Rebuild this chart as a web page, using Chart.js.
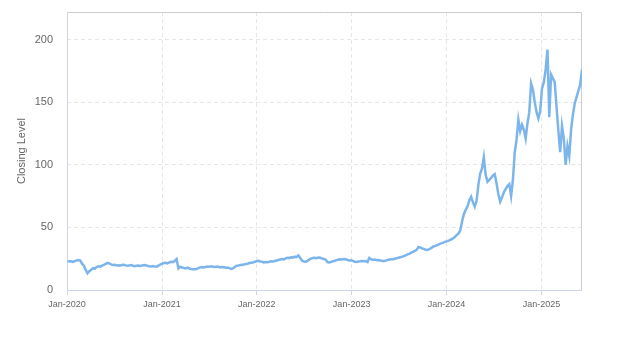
<!DOCTYPE html>
<html>
<head>
<meta charset="utf-8">
<title>Closing Level</title>
<script src="https://cdn.jsdelivr.net/npm/chart.js@4.4.1/dist/chart.umd.min.js"></script>
<style>
  html, body { margin: 0; padding: 0; background: #fff; }
  #wrap { width: 623px; height: 350px; }
</style>
</head>
<body>
<div id="wrap"><canvas id="closingChart" width="623" height="350"></canvas></div>
<script>
// weekly closes, first one on startDate, then every 7 days
const startDate = '2020-01-03';

const close2020 = [23.2, 22.8, 23.0, 22.5, 23.1, 23.6, 24.0, 23.5, 21.0, 19.5,
    16.0, 13.3, 15.0, 16.2, 17.5, 17.0, 18.3, 19.0, 18.6, 19.4,
    20.0, 20.8, 21.6, 21.2, 20.4, 19.9, 20.1, 19.6, 19.8, 19.5,
    19.9, 20.2, 19.7, 19.3, 19.6, 19.9, 19.4, 19.0, 19.3, 19.6,
    19.2, 19.5, 20.0, 19.7, 19.3, 19.0, 18.8, 19.2, 18.7, 18.6,
    19.5, 20.3];

const close2021 = [21.0, 21.5, 21.8, 21.3, 22.0, 22.6, 22.3, 23.2, 24.7, 17.2,
    18.6, 18.0, 17.6, 17.3, 17.8, 17.2, 16.8, 16.6, 16.5, 16.8,
    17.4, 18.0, 18.3, 18.0, 18.4, 18.7, 18.5, 18.9, 18.6, 18.3,
    18.7, 18.5, 18.0, 18.4, 18.1, 17.8, 18.0, 17.4, 16.8, 17.2,
    18.4, 19.4, 19.6, 19.9, 20.2, 20.4, 20.7, 21.0, 21.5, 21.8,
    22.0, 22.6, 23.0];

const close2022 = [23.3, 22.8, 22.5, 22.0, 22.3, 22.1, 22.6, 23.0, 22.7, 23.2,
    23.6, 24.0, 24.3, 24.7, 24.4, 25.2, 25.8, 25.5, 26.2, 25.8,
    26.6, 26.2, 27.6, 25.5, 23.4, 22.8, 22.6, 23.3, 24.4, 25.0,
    25.6, 25.8, 25.4, 25.9, 25.7, 25.2, 24.8, 24.2, 22.3, 22.0,
    22.5, 23.0, 23.4, 23.9, 24.3, 24.6, 24.4, 24.8, 24.5, 24.0,
    23.6, 23.8];

const close2023 = [23.2, 22.6, 22.4, 22.8, 22.9, 23.2, 22.9, 23.1, 22.3, 25.6,
    24.6, 24.0, 24.4, 23.8, 24.0, 23.6, 23.3, 23.0, 23.5, 24.0,
    24.3, 24.6, 24.5, 24.9, 25.3, 25.8, 26.2, 26.6, 27.1, 27.6,
    28.4, 28.9, 29.8, 30.5, 31.2, 32.0, 34.3, 34.0, 33.2, 32.8,
    32.2, 32.0, 32.6, 33.4, 34.6, 35.0, 35.6, 36.2, 37.0, 37.4,
    38.0, 38.6];

const close2024 = [39.0, 39.6, 40.4, 41.2, 42.3, 43.8, 45.0, 47.5, 54.5, 60.5,
    63.8, 66.8, 71.5, 74.4, 70.0, 66.5, 71.0, 84.0, 93.0, 97.0,
    106.0, 92.0, 86.5, 88.0, 89.5, 91.5, 92.5, 85.0, 76.5, 70.5,
    74.0, 78.0, 80.5, 83.0, 84.5, 75.0, 88.0, 110.0, 120.0, 136.0,
    127.0, 132.0, 128.0, 121.0, 133.0, 142.0, 165.0, 160.0, 150.0, 142.0,
    137.0, 143.0];

const close2025 = [161.0, 166.0, 176.0, 192.0, 138.0, 172.0, 169.0, 166.0, 146.0, 127.0,
    110.0, 131.0, 121.0, 100.0, 115.0, 107.0, 128.0, 140.0, 149.0, 154.0,
    159.0, 164.0, 176.0];

const tickYears = [2020, 2021, 2022, 2023, 2024, 2025];
const yearLabels = ['Jan-2020', 'Jan-2021', 'Jan-2022', 'Jan-2023', 'Jan-2024', 'Jan-2025'];
const levelTicks = [0, 50, 100, 150, 200];

const FONT = '"Liberation Sans", Arial, Helvetica, sans-serif';
const DAY = 86400000;
const origin = Date.UTC(2020, 0, 1);
const dayOf = ms => Math.round((ms - origin) / DAY);

const closes = [].concat(close2020, close2021, close2022, close2023, close2024, close2025);
const firstDay = dayOf(Date.parse(startDate));
const points = closes.map((v, i) => ({ x: firstDay + 7 * i, y: v }));
const tickDays = tickYears.map(y => dayOf(Date.UTC(y, 0, 1)));

// frame round the plot: gray top/right, blue-gray axis lines
const plotFrame = {
    id: 'plotFrame',
    beforeDatasetsDraw(chart) {
        const { ctx, chartArea: a } = chart;
        const l = Math.round(a.left) + 0.5;
        const r = Math.round(a.right) - 0.5;
        const t = Math.round(a.top) + 0.5;
        const b = Math.round(a.bottom) + 0.5;
        ctx.save();
        ctx.lineWidth = 1;
        ctx.strokeStyle = '#cccccc';
        ctx.beginPath();
        ctx.moveTo(l, t); ctx.lineTo(r, t); ctx.lineTo(r, b);
        ctx.stroke();
        ctx.strokeStyle = '#ccd6eb';
        ctx.beginPath();
        ctx.moveTo(l, t); ctx.lineTo(l, b); ctx.lineTo(r, b);
        ctx.stroke();
        ctx.restore();
    }
};

const ctx = document.getElementById('closingChart').getContext('2d');

new Chart(ctx, {
    type: 'line',
    data: {
        datasets: [{
            label: 'Closing Level',
            data: points,
            borderColor: '#7cb5ec',
            borderWidth: 2.5,
            pointRadius: 0,
            tension: 0,
            fill: false
        }]
    },
    options: {
        responsive: false,
        devicePixelRatio: 1,
        animation: false,
        layout: { padding: { top: 12, right: 41, bottom: 40, left: 11 } },
        plugins: {
            legend: { display: false },
            tooltip: { enabled: false }
        },
        scales: {
            x: {
                type: 'linear',
                min: 0,
                max: points[points.length - 1].x,
                afterBuildTicks: s => { s.ticks = tickDays.map(v => ({ value: v })); },
                afterFit: s => { s.height = 20; },
                ticks: {
                    color: '#666666',
                    font: { size: 9, family: FONT },
                    padding: 4,
                    maxRotation: 0,
                    autoSkip: false,
                    callback: v => yearLabels[tickDays.indexOf(v)]
                },
                grid: { color: '#e6e6e6', tickColor: '#ccd6eb', tickLength: 5, tickBorderDash: [] },
                border: { display: false, dash: [4, 3] }
            },
            y: {
                min: 0,
                max: 222,
                afterBuildTicks: s => { s.ticks = levelTicks.map(v => ({ value: v })); },
                // top label sits well below the plot top, so no extra room for it
                afterFit: s => { s.width = 56; s.paddingTop = 0; s.paddingBottom = 0; },
                ticks: {
                    color: '#666666',
                    font: { size: 11, family: FONT },
                    padding: 14
                },
                grid: { color: '#e6e6e6', drawTicks: false },
                border: { display: false, dash: [4, 3] },
                title: {
                    display: true,
                    text: 'Closing Level',
                    color: '#666666',
                    font: { size: 11, family: FONT },
                    padding: { top: 4, bottom: 4 }
                }
            }
        }
    },
    plugins: [plotFrame]
});
</script>
</body>
</html>
